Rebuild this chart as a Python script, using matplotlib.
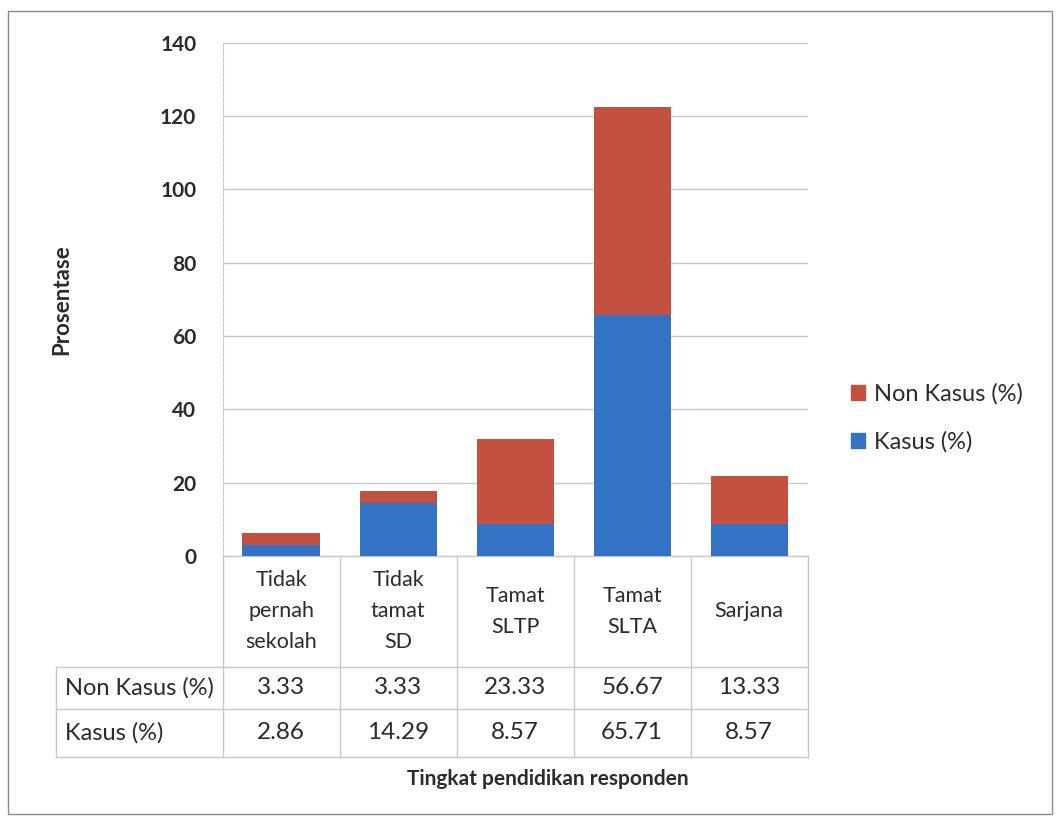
import matplotlib
matplotlib.use("Agg")
import matplotlib.pyplot as plt
from matplotlib.lines import Line2D
from matplotlib.patches import Rectangle
import numpy as np

plt.rcParams["font.family"] = ["Lato", "DejaVu Sans"]

categories = ["Tidak\npernah\nsekolah", "Tidak\ntamat\nSD", "Tamat\nSLTP", "Tamat\nSLTA", "Sarjana"]
kasus = [2.86, 14.29, 8.57, 65.71, 8.57]
non_kasus = [3.33, 3.33, 23.33, 56.67, 13.33]
series_labels = ["Non Kasus (%)", "Kasus (%)"]
y_ticks = [0, 20, 40, 60, 80, 100, 120, 140]

red = "#c4513f"
blue = "#3473c4"
grid_c = "#c8c8c8"
text_c = "#2b2b2b"

fig = plt.figure(figsize=(10.6, 8.21), dpi=100)
ax = fig.add_axes([0.210, 0.323, 0.552, 0.625])

x = np.arange(len(categories))
ax.bar(x, kasus, width=0.66, color=blue, label=series_labels[1], zorder=3)
ax.bar(x, non_kasus, width=0.66, bottom=kasus, color=red, label=series_labels[0], zorder=3)

ax.set_xlim(-0.5, len(categories) - 0.5)
ax.set_ylim(0, 140)
ax.set_yticks(y_ticks)
ax.set_yticklabels([str(t) for t in y_ticks], fontsize=15, fontweight="bold", color=text_c)
ax.tick_params(axis="y", length=0, pad=19)
ax.set_xticks([])
ax.yaxis.grid(True, color=grid_c, linewidth=1.0, zorder=0)
for s in ["top", "right", "bottom"]:
    ax.spines[s].set_visible(False)
ax.spines["left"].set_color(grid_c)
ax.spines["left"].set_linestyle((0, (3, 1.5)))
ax.set_ylabel("Prosentase", fontsize=16, fontweight="bold", color=text_c, labelpad=63)

# data table beneath the axis, drawn in axes-fraction coordinates
tr = ax.transAxes
n = len(categories)
col_w = 1.0 / n
label_left = -0.284
y_head = -0.216
y_mid = -0.298
y_bot = -0.392
line_kw = dict(color=grid_c, linewidth=1.0, transform=tr, clip_on=False)

# horizontal rules
ax.add_artist(Line2D([0, 1], [0, 0], **line_kw))
for yy in (y_head, y_mid, y_bot):
    ax.add_artist(Line2D([label_left, 1], [yy, yy], **line_kw))
# vertical rules
for i in range(n + 1):
    ax.add_artist(Line2D([i * col_w, i * col_w], [0, y_bot], **line_kw))
ax.add_artist(Line2D([label_left, label_left], [y_head, y_bot], **line_kw))

for i, cat in enumerate(categories):
    xc = (i + 0.5) * col_w
    ax.text(xc, y_head / 2, cat, transform=tr, ha="center", va="center",
            fontsize=15.5, color=text_c, linespacing=1.7)
    ax.text(xc, (y_head + y_mid) / 2, f"{non_kasus[i]:.2f}", transform=tr,
            ha="center", va="center", fontsize=17.5, color=text_c)
    ax.text(xc, (y_mid + y_bot) / 2, f"{kasus[i]:.2f}", transform=tr,
            ha="center", va="center", fontsize=17.5, color=text_c)

ax.text(label_left + 0.014, (y_head + y_mid) / 2, series_labels[0], transform=tr,
        ha="left", va="center", fontsize=17, color=text_c)
ax.text(label_left + 0.014, (y_mid + y_bot) / 2, series_labels[1], transform=tr,
        ha="left", va="center", fontsize=17, color=text_c)

ax.text(0.556, -0.435, "Tingkat pendidikan responden", transform=tr, ha="center",
        va="center", fontsize=15, fontweight="bold", color=text_c)

# legend
leg = fig.legend(handles=[Rectangle((0, 0), 1, 1, color=red), Rectangle((0, 0), 1, 1, color=blue)],
                 labels=series_labels, loc="center left", bbox_to_anchor=(0.803, 0.491),
                 frameon=False, fontsize=17, handlelength=0.6, handleheight=0.6,
                 handletextpad=0.35, labelspacing=1.1, borderpad=0, borderaxespad=0,
                 labelcolor=text_c)

# outer frame
fig.add_artist(Rectangle((0.008, 0.008), 0.984, 0.979, transform=fig.transFigure,
                         fill=False, edgecolor="#8a8a8a", linewidth=1.0))

fig.savefig("out.png", dpi=100, facecolor="white")
